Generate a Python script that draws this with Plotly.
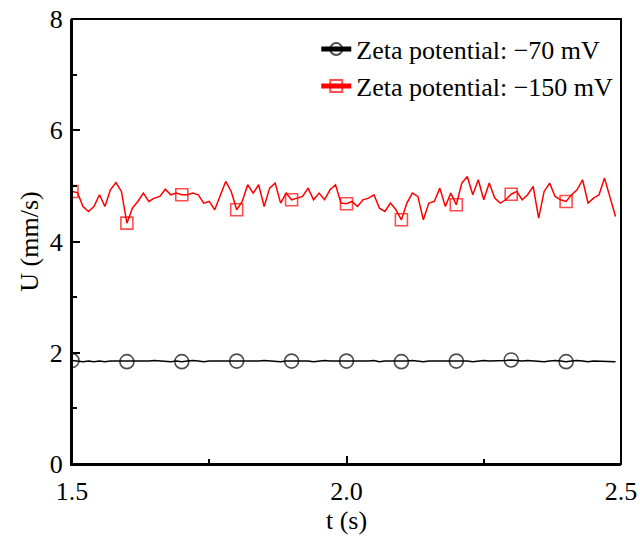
import plotly.graph_objects as go

t = [round(1.50 + 0.01 * i, 2) for i in range(100)]

u_70 = [
    1.86, 1.85, 1.84, 1.85, 1.84, 1.85, 1.84, 1.85, 1.85, 1.85,
    1.84, 1.85, 1.85, 1.84, 1.85, 1.86, 1.85, 1.85, 1.84, 1.85,
    1.84, 1.85, 1.86, 1.85, 1.84, 1.85, 1.85, 1.84, 1.85, 1.85,
    1.85, 1.85, 1.84, 1.85, 1.85, 1.86, 1.85, 1.85, 1.84, 1.85,
    1.85, 1.85, 1.86, 1.85, 1.84, 1.85, 1.86, 1.85, 1.85, 1.85,
    1.85, 1.84, 1.85, 1.85, 1.85, 1.86, 1.84, 1.85, 1.85, 1.85,
    1.84, 1.85, 1.86, 1.85, 1.84, 1.85, 1.85, 1.85, 1.86, 1.85,
    1.85, 1.86, 1.85, 1.84, 1.85, 1.86, 1.85, 1.85, 1.85, 1.86,
    1.87, 1.86, 1.85, 1.86, 1.85, 1.85, 1.84, 1.85, 1.86, 1.85,
    1.84, 1.85, 1.86, 1.85, 1.84, 1.85, 1.85, 1.85, 1.85, 1.84,
]

u_150 = [
    4.90, 4.88, 4.63, 4.54, 4.63, 4.84, 4.63, 4.93, 5.06, 4.90,
    4.33, 4.60, 4.72, 4.87, 4.72, 4.78, 4.81, 4.94, 4.84, 4.87,
    4.84, 4.84, 4.87, 4.84, 4.69, 4.72, 4.57, 4.81, 5.08, 4.90,
    4.57, 4.72, 5.02, 4.87, 5.02, 4.63, 4.96, 5.05, 4.69, 4.87,
    4.75, 4.78, 4.81, 4.96, 4.75, 4.87, 4.75, 4.93, 5.02, 4.69,
    4.68, 4.72, 4.63, 4.75, 4.78, 4.84, 4.60, 4.54, 4.69, 4.57,
    4.39, 4.69, 4.87, 4.81, 4.39, 4.69, 4.72, 4.96, 4.63, 4.87,
    4.66, 5.05, 5.17, 4.84, 5.11, 4.75, 5.05, 4.78, 4.69, 4.75,
    4.85, 4.90, 4.75, 4.84, 4.99, 4.42, 4.90, 5.05, 4.81, 4.75,
    4.72, 4.84, 4.93, 5.11, 4.69, 4.78, 4.84, 5.14, 4.81, 4.45,
]

names = ["Zeta potential: \u221270 mV", "Zeta potential: \u2212150 mV"]

FONT = "Liberation Serif, Times New Roman, serif"
FS = 26

def sizes(n, every, s):
    return [s if i % every == 0 else 0 for i in range(n)]

fig = go.Figure()
fig.add_trace(go.Scatter(
    x=t, y=u_70, name=names[0], mode="lines+markers", legendgroup="a",
    line=dict(color="black", width=1.5),
    marker=dict(symbol="circle-open", size=sizes(len(t), 10, 14), color="black",
                line=dict(width=1.6, color="black")),
))
fig.add_trace(go.Scatter(
    x=t, y=u_150, name=names[1], mode="lines+markers", legendgroup="b",
    line=dict(color="red", width=1.5),
    marker=dict(symbol="square-open", size=sizes(len(t), 10, 12), color="red",
                line=dict(width=1.6, color="red")),
))

axis_common = dict(
    showline=True, linecolor="black", linewidth=2, mirror=False,
    ticks="inside", ticklen=8, tickwidth=2, tickcolor="black",
    showgrid=False, zeroline=False, automargin=False,
    tickfont=dict(family=FONT, size=FS, color="black"),
)

fig.update_xaxes(
    range=[1.5, 2.5], tickvals=[1.5, 2.0, 2.5], ticktext=["1.5", "2.0", "2.5"],
    minor=dict(dtick=0.25, tick0=1.5, ticks="inside", ticklen=5, tickwidth=2, tickcolor="black"),
    ticklabelstandoff=3,
    title=dict(text="t (s)", font=dict(family=FONT, size=FS, color="black"), standoff=6),
    **axis_common,
)
fig.update_yaxes(
    range=[0, 8], tickvals=[0, 2, 4, 6, 8],
    minor=dict(dtick=1, tick0=0, ticks="inside", ticklen=5, tickwidth=2, tickcolor="black"),
    ticklabelstandoff=2,
    title=dict(text="U (mm/s)", font=dict(family=FONT, size=FS, color="black"), standoff=4),
    **axis_common,
)

fig.add_shape(type="rect", xref="paper", yref="paper", x0=0, y0=0, x1=1, y1=1,
              line=dict(color="black", width=2), fillcolor="rgba(0,0,0,0)", layer="above")

fig.update_layout(
    width=640, height=542,
    margin=dict(l=72, r=19, t=19, b=78),
    plot_bgcolor="white", paper_bgcolor="white",
    font=dict(family=FONT, size=FS, color="black"),
    legend=dict(x=0.995, y=0.985, xanchor="right", yanchor="top",
                bgcolor="rgba(0,0,0,0)", itemsizing="constant",
                tracegroupgap=0, font=dict(family=FONT, size=FS, color="black")),
    showlegend=True,
)

fig.write_html("out.html")
